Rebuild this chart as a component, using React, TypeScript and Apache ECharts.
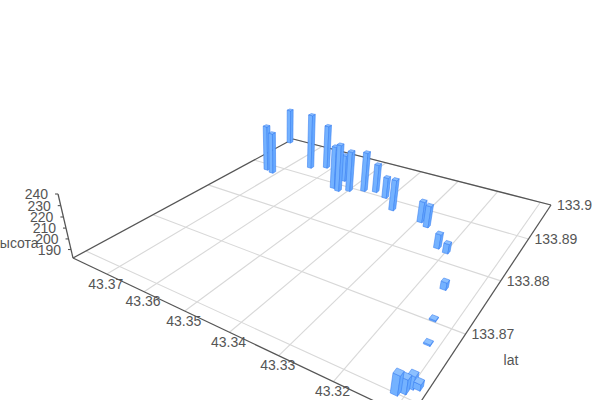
import React, { useEffect, useRef } from "react";
import * as echarts from "echarts";

const lonValues = [43.3736, 43.3714, 43.3793, 43.365, 43.3616, 43.3539, 43.3522, 43.3538, 43.35, 43.347, 43.3444, 43.3411, 43.337, 43.3294, 43.3274, 43.3221, 43.3199, 43.3155, 43.3135, 43.3118, 43.3114, 43.3105, 43.31, 43.3091];
const latValues = [133.8886, 133.8882, 133.8987, 133.8926, 133.8939, 133.8889, 133.8885, 133.8916, 133.8893, 133.8904, 133.891, 133.8902, 133.8877, 133.8869, 133.8862, 133.8825, 133.8821, 133.8756, 133.8704, 133.867, 133.8601, 133.8606, 133.8614, 133.8616];
const heightValues = [229.8, 225.2, 220.7, 240, 228.3, 225.7, 230.2, 209.5, 223.4, 222.4, 210.9, 203.2, 212.8, 202.5, 203, 195.5, 190.9, 188.6, 183, 183, 198.3, 194, 192.7, 187];

const lonTicks = [43.37, 43.36, 43.35, 43.34, 43.33, 43.32, 43.31];
const lonLabels = ["43.37", "43.36", "43.35", "43.34", "43.33", "43.32"];
const latTicks = [133.86, 133.87, 133.88, 133.89, 133.9];
const latLabels = ["133.87", "133.88", "133.89", "133.9"];
const heightTicks = [190, 200, 210, 220, 230, 240];

const LON_MAX = 43.3799, LON_SPAN = 0.0723;
const LAT_MIN = 133.8583, LAT_SPAN = 0.0417;
const H_MIN = 181.8, H_SPAN = 58.2;

// Floor homography (perspective camera)
const g = -0.29627, h = 0.46812;
const a = 215.53, b = 357.16, c = 73, d = 36.16, e = -53.93, f = 258;
const K = -0.06625, NX = 284, NY = 1160;
const HALF = 0.008;

const sOf = (lon: number) => (LON_MAX - lon) / LON_SPAN;
const tOf = (lat: number) => (lat - LAT_MIN) / LAT_SPAN;
const zOf = (v: number) => (v - H_MIN) / H_SPAN;

function proj(s: number, t: number, z: number): number[] {
  const X = a * s + b * t + c + z * K * NX;
  const Y = d * s + e * t + f + z * K * NY;
  const W = g * s + h * t + 1 + z * K;
  return [X / W, Y / W];
}

const depth = (i: number) => g * sOf(lonValues[i]) + h * tOf(latValues[i]);
const barData = lonValues
  .map((lon, i) => [lon, latValues[i], heightValues[i], depth(i)])
  .sort((p, q) => q[3] - p[3]);

const areaOf = (pts: number[][]) => {
  let sum = 0;
  pts.forEach((p, i) => {
    const q = pts[(i + 1) % pts.length];
    sum += p[0] * q[1] - q[0] * p[1];
  });
  return sum;
};

const TEXT = "#555";
const AXIS = "#555";
const GRID = "#d8d8d8";
const FONT = "Liberation Sans, Arial, sans-serif";
const FACE = ["#74b2ff", "#66a9ff", "#74b2ff", "#66a9ff"];
const TOP = "#8cc0ff";
const EDGE = "rgba(55,125,240,0.7)";

const line = (p: number[], q: number[], stroke: string, lineWidth = 1.1) => ({
  type: "line",
  shape: { x1: p[0], y1: p[1], x2: q[0], y2: q[1] },
  style: { stroke, lineWidth, fill: null },
  silent: true,
});
const label = (text: string, x: number, y: number, align: string) => ({
  type: "text",
  x,
  y,
  style: { text, fill: TEXT, font: `14px ${FONT}`, textAlign: align, textVerticalAlign: "middle" },
  silent: true,
});

function renderBar(_: any, api: any) {
  const s = sOf(api.value(0));
  const t = tOf(api.value(1));
  const z = zOf(api.value(2));
  const corners = [
    [s - HALF, t - HALF],
    [s + HALF, t - HALF],
    [s + HALF, t + HALF],
    [s - HALF, t + HALF],
  ];
  const base = corners.map((p) => proj(p[0], p[1], 0));
  const top = corners.map((p) => proj(p[0], p[1], z));
  const children: any[] = [];
  corners.forEach((_c, i) => {
    const j = (i + 1) % 4;
    const pts = [base[i], base[j], top[j], top[i]];
    if (areaOf(pts) < 0) {
      children.push({
        type: "polygon",
        shape: { points: pts },
        style: { fill: FACE[i], stroke: EDGE, lineWidth: 0.8 },
        silent: true,
      });
    }
  });
  children.push({
    type: "polygon",
    shape: { points: top },
    style: { fill: TOP, stroke: EDGE, lineWidth: 0.8 },
    silent: true,
  });
  return { type: "group", children };
}

function renderFrame() {
  const children: any[] = [];
  lonTicks.forEach((v) => children.push(line(proj(sOf(v), 0, 0), proj(sOf(v), 1, 0), GRID)));
  latTicks.forEach((v) => children.push(line(proj(0, tOf(v), 0), proj(1, tOf(v), 0), GRID)));
  const L = proj(0, 0, 0), F = proj(1, 0, 0), R = proj(1, 1, 0), B = proj(0, 1, 0);
  children.push(line(L, F, AXIS, 1.25), line(F, R, AXIS, 1.25), line(R, B, AXIS, 1.25), line(B, L, AXIS, 1.25));
  children.push(line(L, proj(0, 0, zOf(240)), AXIS, 1.25));
  heightTicks.forEach((v) => {
    const p = proj(0, 0, zOf(v));
    children.push(line(p, [p[0] - 3, p[1]], AXIS));
    children.push(label(String(v), p[0] - 10, p[1], "right"));
  });
  lonLabels.forEach((txt) => {
    const p = proj(sOf(Number(txt)), 0, 0);
    children.push(label(txt, p[0] - 1, p[1] + 9.5, "center"));
  });
  latLabels.forEach((txt) => {
    const p = proj(1, tOf(Number(txt)), 0);
    children.push(label(txt, p[0] + 6, p[1], "left"));
  });
  children.push(label("lat", 511, 360, "center"));
  children.push(label("высота", 15.5, 243, "center"));
  return { type: "group", children };
}

export default function App() {
  const ref = useRef<HTMLDivElement>(null);
  useEffect(() => {
    const chart = echarts.init(ref.current!, null, { renderer: "svg" });
    chart.setOption({
      animation: false,
      backgroundColor: "#fff",
      series: [
        {
          type: "custom",
          coordinateSystem: "none",
          silent: true,
          z: 1,
          data: [[0]],
          renderItem: renderFrame,
        },
        {
          type: "custom",
          coordinateSystem: "none",
          silent: true,
          z: 2,
          data: barData,
          dimensions: ["lon", "lat", "height", "depth"],
          encode: { x: 0, y: 1 },
          renderItem: renderBar,
        },
      ],
    });
    return () => chart.dispose();
  }, []);
  return <div ref={ref} style={{ position: "absolute", left: 0, top: 0, width: 600, height: 400 }} />;
}
